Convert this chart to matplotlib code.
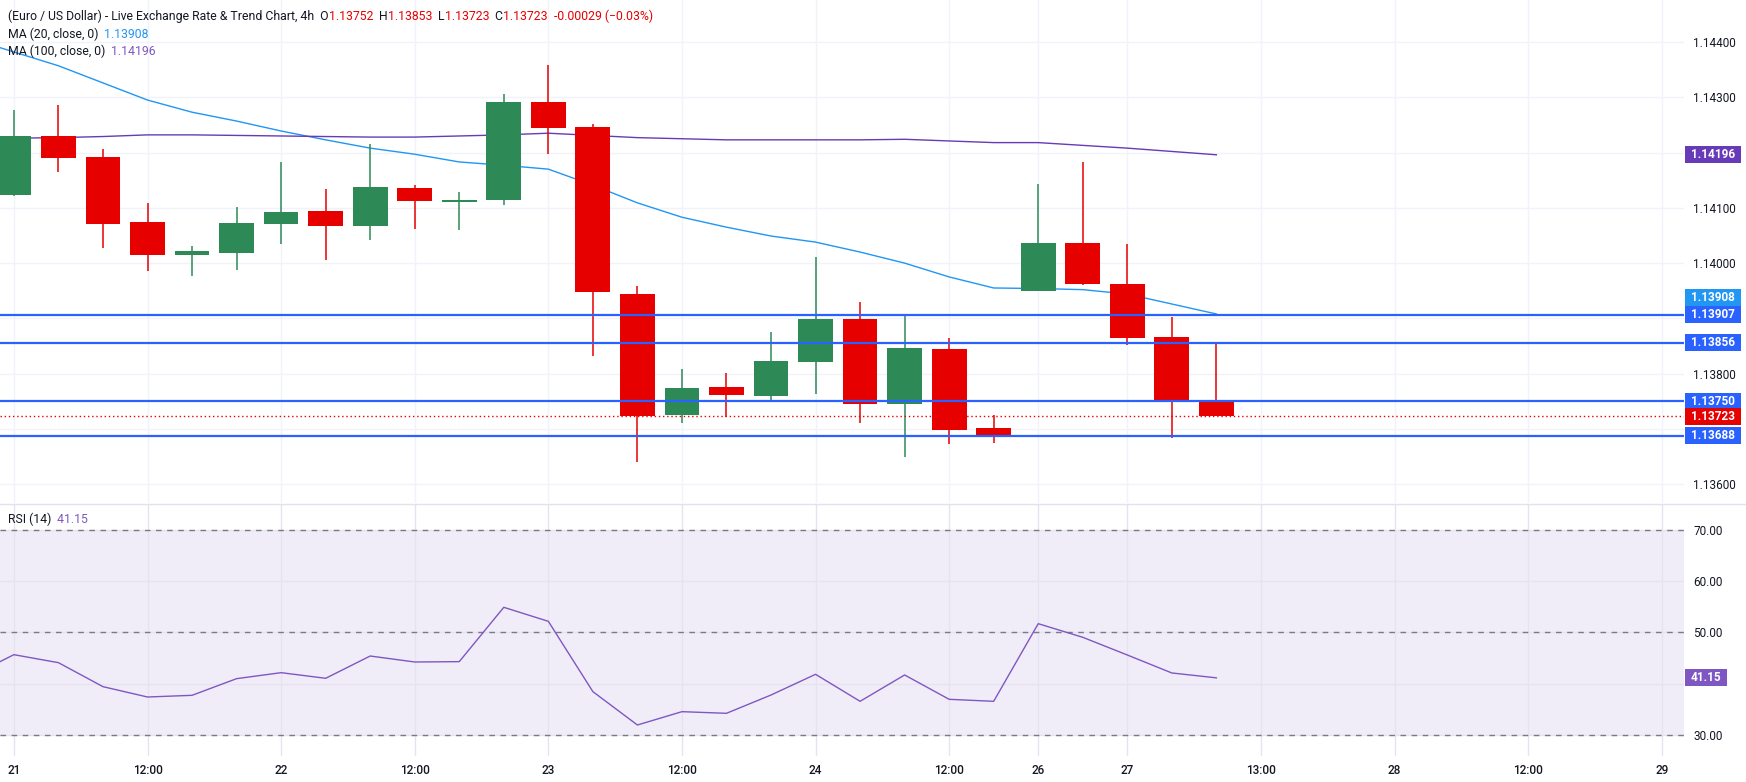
import numpy as np
import matplotlib
matplotlib.use('Agg')
import matplotlib.pyplot as plt
from matplotlib.transforms import blended_transform_factory
from matplotlib.patches import Rectangle
from matplotlib.lines import Line2D

plt.rcParams['font.family'] = ['Roboto', 'DejaVu Sans']

# 4h candles, EUR/USD
opens = [1.14124, 1.14230, 1.14192, 1.14075, 1.14014, 1.14019, 1.14071, 1.14094,
         1.14068, 1.14136, 1.14111, 1.14115, 1.14292, 1.14246, 1.13944, 1.13725,
         1.13776, 1.13760, 1.13821, 1.13899, 1.13745, 1.13844, 1.13701, 1.13950,
         1.14036, 1.13962, 1.13866, 1.13752]
highs = [1.14277, 1.14286, 1.14207, 1.14109, 1.14031, 1.14102, 1.14183, 1.14134,
         1.14216, 1.14141, 1.14129, 1.14306, 1.14358, 1.14252, 1.13959, 1.13808,
         1.13801, 1.13875, 1.14011, 1.13929, 1.13905, 1.13864, 1.13725, 1.14143,
         1.14183, 1.14034, 1.13902, 1.13853]
lows = [1.14122, 1.14165, 1.14028, 1.13986, 1.13976, 1.13988, 1.14035, 1.14005,
        1.14041, 1.14062, 1.14060, 1.14106, 1.14198, 1.13832, 1.13640, 1.13711,
        1.13721, 1.13750, 1.13763, 1.13711, 1.13650, 1.13673, 1.13675, 1.13950,
        1.13961, 1.13852, 1.13683, 1.13723]
closes = [1.14230, 1.14191, 1.14071, 1.14015, 1.14022, 1.14073, 1.14093, 1.14068,
          1.14137, 1.14113, 1.14114, 1.14292, 1.14245, 1.13947, 1.13724, 1.13774,
          1.13762, 1.13823, 1.13899, 1.13745, 1.13846, 1.13698, 1.13686, 1.14036,
          1.13963, 1.13865, 1.13749, 1.13723]

# indicators start one bar earlier (clipped at the left edge)
ma20 = [1.14407, 1.14382, 1.14357, 1.14326, 1.14295, 1.14273, 1.14257, 1.14239,
        1.14223, 1.14208, 1.14197, 1.14183, 1.14177, 1.14170, 1.14141, 1.14109,
        1.14083, 1.14065, 1.14049, 1.14038, 1.14020, 1.14000, 1.13975, 1.13955,
        1.13954, 1.13952, 1.13944, 1.13926, 1.13908]
ma100 = [1.14225, 1.14226, 1.14227, 1.14229, 1.14232, 1.14232, 1.14231, 1.14230,
         1.14229, 1.14228, 1.14228, 1.14230, 1.14232, 1.14235, 1.14231, 1.14227,
         1.14225, 1.14223, 1.14223, 1.14223, 1.14223, 1.14224, 1.14221, 1.14218,
         1.14218, 1.14213, 1.14208, 1.14202, 1.14196]
rsi = [41.3, 45.67, 44.11, 39.43, 37.41, 37.74, 40.99, 42.16, 41.06, 45.41, 44.24,
       44.31, 54.91, 52.18, 38.46, 31.95, 34.55, 34.23, 37.80, 41.84, 36.57, 41.71,
       36.96, 36.57, 51.72, 49.06, 45.61, 42.10, 41.15]

levels = [1.13907, 1.13856, 1.13750, 1.13688]
last_price = 1.13723

tick_pos = [0, 3, 6, 9, 12, 15, 18, 21, 23, 25, 28, 31, 34, 37]
tick_lab = ['21', '12:00', '22', '12:00', '23', '12:00', '24', '12:00',
            '26', '27', '13:00', '28', '12:00', '29']
price_ticks = [1.136, 1.137, 1.138, 1.139, 1.140, 1.141, 1.142, 1.143, 1.144]
price_hidden = [1.137, 1.139, 1.142]  # covered by the price badges
rsi_ticks = [30, 40, 50, 60, 70]
rsi_hidden = [40]  # covered by the RSI badge

GREEN = '#2D8A57'
RED = '#E60000'
BLUE = '#2962FF'
MA20_C = '#2196F3'
MA100_C = '#673AB7'
RSI_C = '#7E57C2'
TXT = '#131722'
GRID = '#F0F3FA'

W, H = 1746, 782
fig = plt.figure(figsize=(W / 100, H / 100), dpi=100)
ax = fig.add_axes([0, 1 - 503 / H, 1684 / W, 503 / H])
rax = fig.add_axes([0, 1 - 756 / H, 1684 / W, 252 / H], sharex=ax)

o = np.array(opens); h = np.array(highs); l = np.array(lows); c = np.array(closes)
idx = np.arange(len(c))
cols = np.where(c >= o, GREEN, RED)

ax.plot(np.arange(-1, len(c)), ma20, color=MA20_C, lw=1.0, zorder=2)
ax.plot(np.arange(-1, len(c)), ma100, color=MA100_C, lw=1.0, zorder=2)
ax.vlines(idx, l, h, colors=cols, lw=1.1, zorder=3)
ax.bar(idx, np.maximum(np.abs(c - o), 0.00002), bottom=np.minimum(o, c),
       width=0.78, color=cols, lw=0, zorder=4)
for lv in levels:
    ax.axhline(lv, color=BLUE, lw=1.6, zorder=5)
ax.axhline(last_price, color=RED, lw=1.0, ls=(0, (1, 2)), zorder=5)

ax.set_xlim(-0.312, 37.50)
ax.set_ylim(1.13566, 1.14476)
ax.set_xticks(tick_pos)
ax.set_yticks(price_ticks)
ax.set_yticklabels(['' if v in price_hidden else '%.5f' % v for v in price_ticks])
ax.yaxis.tick_right()
ax.tick_params(axis='y', length=0, pad=6.5, labelsize=8.5, labelcolor=TXT)
ax.tick_params(axis='x', length=0, labelbottom=False)
ax.grid(True, color=GRID, lw=1, zorder=0)
for s in ax.spines.values():
    s.set_visible(False)

# RSI pane
rax.axhspan(30, 70, color=RSI_C, alpha=0.1, lw=0, zorder=0)
rax.plot(np.arange(-1, len(c)), rsi, color=RSI_C, lw=1.0, zorder=3)
for lv in (30, 50, 70):
    rax.axhline(lv, color='#787B86', lw=1.0, ls=(0, (4, 4)), zorder=2)
rax.set_ylim(25.9, 75.07)
rax.set_yticks(rsi_ticks)
rax.set_yticklabels(['' if v in rsi_hidden else '%.2f' % v for v in rsi_ticks])
rax.yaxis.tick_right()
rax.tick_params(axis='y', length=0, pad=6.5, labelsize=8.5, labelcolor=TXT)
rax.set_xticks(tick_pos)
rax.set_xticklabels(tick_lab, fontweight='medium')
rax.tick_params(axis='x', length=0, pad=6, labelsize=8.5, labelcolor=TXT)
rax.grid(True, color='#E6E2F0', lw=1, zorder=1)
for s in rax.spines.values():
    s.set_visible(False)

fig.add_artist(Line2D([0, 1], [1 - 504 / H] * 2, transform=fig.transFigure,
                      color='#E0E3EB', lw=1))


def badge(axis, y, text, color, h_units, w_px=56):
    tr = blended_transform_factory(axis.transAxes, axis.transData)
    x0 = 1685 / 1684
    w = w_px / 1684
    axis.add_patch(Rectangle((x0, y - h_units / 2), w, h_units, transform=tr,
                             facecolor=color, edgecolor='none', clip_on=False, zorder=10))
    axis.text(x0 + w / 2, y, text, transform=tr, ha='center', va='center',
              color='white', fontsize=8.5, fontweight='bold', zorder=11, clip_on=False)


ph = 17 / 55250
badge(ax, 1.14196, '1.14196', MA100_C, ph)
badge(ax, 1.13937, '1.13908', MA20_C, ph)
badge(ax, 1.13907, '1.13907', BLUE, ph)
badge(ax, 1.13856, '1.13856', BLUE, ph)
badge(ax, 1.13750, '1.13750', BLUE, ph)
badge(ax, 1.13723, '1.13723', RED, ph)
badge(ax, 1.13688, '1.13688', BLUE, ph)
badge(rax, 41.15, '41.15', RSI_C, 17 * 0.19512, w_px=42)


def chain(axis, x, y, parts, size=8.8):
    t = axis.text(x, y, parts[0][0], color=parts[0][1], fontsize=size,
                  transform=axis.transAxes, va='center', ha='left', zorder=12)
    for s, col in parts[1:]:
        t = axis.annotate(s, xy=(1, 0), xycoords=t, va='bottom', ha='left',
                          color=col, fontsize=size, zorder=12)


def ypos(axis_top_px, axis_h_px, y_px):
    return 1 - (y_px - axis_top_px) / axis_h_px


x0 = 8 / 1684
chain(ax, x0, ypos(0, 503, 16), [
    ('(Euro / US Dollar) - Live Exchange Rate & Trend Chart, 4h  O', TXT),
    ('1.13752', RED), ('  H', TXT), ('1.13853', RED), ('  L', TXT),
    ('1.13723', RED), ('  C', TXT), ('1.13723', RED),
    ('  -0.00029 (\u22120.03%)', RED)])
chain(ax, x0, ypos(0, 503, 34), [('MA (20, close, 0)', TXT), ('  1.13908', MA20_C)])
chain(ax, x0, ypos(0, 503, 51), [('MA (100, close, 0)', TXT), ('  1.14196', RSI_C)])
chain(rax, x0, ypos(504, 252, 519), [('RSI (14)', TXT), ('  41.15', RSI_C)])

fig.savefig('out.png', dpi=100, facecolor='white')
